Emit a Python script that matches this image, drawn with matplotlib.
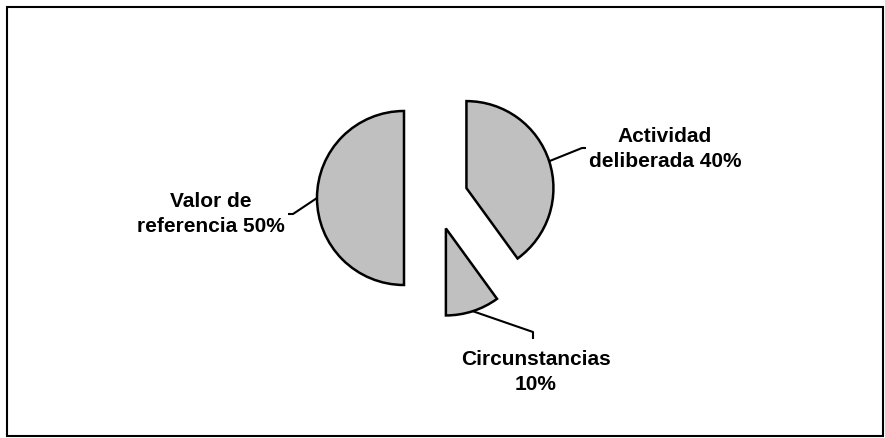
import matplotlib
matplotlib.use("Agg")
import matplotlib.pyplot as plt
from matplotlib.patches import Rectangle
import numpy as np

# data
labels = ["Actividad\ndeliberada 40%", "Circunstancias\n10%", "Valor de\nreferencia 50%"]
values = [40, 10, 50]

# layout (pixel space, y down)
W, H = 885, 438
center = (436, 198)
radius = 87
explode_px = 32
label_pos = [(665, 149), (536, 372), (211, 214)]
# elbow of each leader line (end of diagonal, end of short tick)
leader_ends = [((582, 148), (586, 148)), ((533, 332), (533, 339)), ((293, 214), (288, 214))]

fig = plt.figure(figsize=(W / 100, H / 100), dpi=100)
ax = fig.add_axes([0, 0, 1, 1])

# explode is in data units here (pixels)
wedges, _ = ax.pie(values, startangle=-90, counterclock=True, center=center,
                   radius=radius, explode=[explode_px] * len(values),
                   colors=["#C0C0C0"] * len(values),
                   wedgeprops=dict(edgecolor="black", linewidth=1.8))

ax.set_xlim(0, W)
ax.set_ylim(H, 0)
ax.set_aspect("auto")
ax.axis("off")

for w, lab, (lx, ly), (p1, p2) in zip(wedges, labels, label_pos, leader_ends):
    mid = np.deg2rad((w.theta1 + w.theta2) / 2)
    sx = w.center[0] + w.r * np.cos(mid)
    sy = w.center[1] + w.r * np.sin(mid)
    ax.plot([sx, p1[0], p2[0]], [sy, p1[1], p2[1]], color="black", lw=1.5,
            solid_capstyle="butt")
    ax.text(lx, ly, lab, ha="center", va="center", fontsize=15,
            fontweight="bold", family="Liberation Sans", linespacing=1.4)

# chart border
fig.patches.append(Rectangle((7 / W, 2 / H), 876 / W, 429 / H, transform=fig.transFigure,
                             fill=False, edgecolor="black", linewidth=1.5))

fig.savefig("out.png", dpi=100, facecolor="white")
